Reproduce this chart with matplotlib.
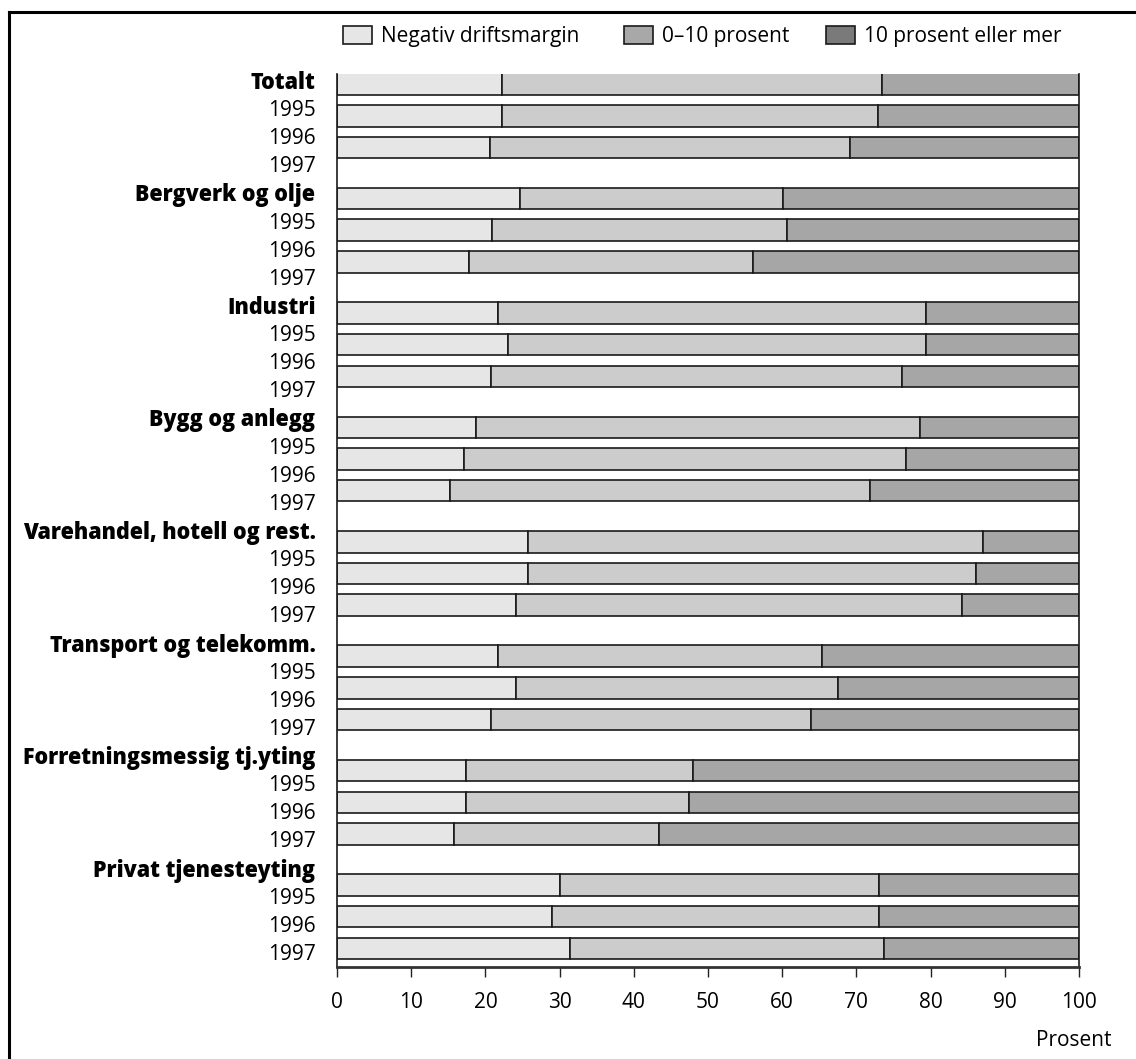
import matplotlib
matplotlib.use("Agg")
import matplotlib.pyplot as plt
from matplotlib.patches import Patch
from matplotlib.lines import Line2D

plt.rcParams['font.family'] = ['Open Sans', 'DejaVu Sans']

groups = ['Totalt', 'Bergverk og olje', 'Industri', 'Bygg og anlegg',
          'Varehandel, hotell og rest.', 'Transport og telekomm.',
          'Forretningsmessig tj.yting', 'Privat tjenesteyting']
years = ['1995', '1996', '1997']

# share of firms per group, three bars each (1995, 1996, 1997)
neg = [22.2, 22.2, 20.6,
       24.6, 20.9, 17.8,
       21.7, 23.0, 20.8,
       18.7, 17.1, 15.2,
       25.8, 25.8, 24.1,
       21.7, 24.1, 20.8,
       17.4, 17.4, 15.8,
       30.1, 29.0, 31.4]
mid = [51.2, 50.7, 48.5,
       35.5, 39.8, 38.3,
       57.7, 56.4, 55.3,
       59.9, 59.6, 56.6,
       61.2, 60.3, 60.1,
       43.6, 43.4, 43.1,
       30.6, 30.1, 27.6,
       43.0, 44.1, 42.3]
high = [26.6, 27.1, 30.9,
        39.9, 39.3, 43.9,
        20.6, 20.6, 23.9,
        21.4, 23.3, 28.2,
        13.0, 13.9, 15.8,
        34.7, 32.5, 36.1,
        52.0, 52.5, 56.6,
        26.9, 26.9, 26.3]

series_names = ['Negativ driftsmargin', '0\u201310 prosent', '10 prosent eller mer']
bar_colors = ['#e6e6e6', '#cccccc', '#a6a6a6']
legend_colors = ['#e6e6e6', '#a8a8a8', '#7a7a7a']

W, H = 1136, 1059
fig = plt.figure(figsize=(W / 100, H / 100), dpi=100)
ax_top, ax_bot = 74, 967
ax = fig.add_axes([337 / W, 1 - ax_bot / H, (1079 - 337) / W, (ax_bot - ax_top) / H])

# layout (units = pixels down from the axes top)
bar_pos = [10.2 + 114.4 * g + 31.65 * k for g in range(len(groups)) for k in range(3)]
left2 = [a + b for a, b in zip(neg, mid)]
kw = dict(height=21.5, edgecolor='#1a1a1a', linewidth=1.2)
ax.barh(bar_pos, neg, color=bar_colors[0], **kw)
ax.barh(bar_pos, mid, left=neg, color=bar_colors[1], **kw)
ax.barh(bar_pos, high, left=left2, color=bar_colors[2], **kw)

label_pos, label_txt, label_bold = [], [], []
for g, name in enumerate(groups):
    base = 6 + 112.5 * g
    label_pos.append(base)
    label_txt.append(name)
    label_bold.append(True)
    for r, y in enumerate(years):
        label_pos.append(base + 28.1 * (r + 1))
        label_txt.append(y)
        label_bold.append(False)

ax.set_yticks(label_pos, label_txt)
for t, b in zip(ax.get_yticklabels(), label_bold):
    if b:
        t.set_fontweight(800)
        t.set_fontsize(15.5)
    else:
        t.set_fontsize(15)
ax.tick_params(axis='y', length=0, pad=15.5)

ax.set_ylim(ax_bot - ax_top, 0)
ax.set_xlim(0, 100)
ax.set_xticks(range(0, 101, 10))
ax.tick_params(axis='x', direction='out', length=7.2, width=1, pad=10.5, labelsize=15, color='#222222')
ax.spines['top'].set_visible(False)
for s in ['left', 'right']:
    ax.spines[s].set_linewidth(1.2)
    ax.spines[s].set_color('#1a1a1a')
ax.spines['bottom'].set_linewidth(2)
ax.spines['bottom'].set_color('#333333')

# legend entries placed one by one at the reference positions
legend_x = [343, 624, 826]
for name, c, lx in zip(series_names, legend_colors, legend_x):
    h = Patch(facecolor=c, edgecolor='#1a1a1a', linewidth=1.2)
    fig.legend([h], [name], loc='center left', bbox_to_anchor=(lx / W, 1 - 36.7 / H),
               frameon=False, fontsize=15, handlelength=1.4, handleheight=0.95,
               handletextpad=0.42, borderpad=0, borderaxespad=0)

fig.text(1111 / W, 1 - 1040.7 / H, 'Prosent', ha='right', va='center', fontsize=15)

# outer frame (cut by the image edge on the right and bottom)
fig.add_artist(Line2D([9 / W, 1.0], [1 - 12 / H, 1 - 12 / H], color='black', linewidth=2.2))
fig.add_artist(Line2D([9 / W, 9 / W], [0.0, 1 - 12 / H], color='black', linewidth=2.2))

fig.savefig('out.png', dpi=100)
